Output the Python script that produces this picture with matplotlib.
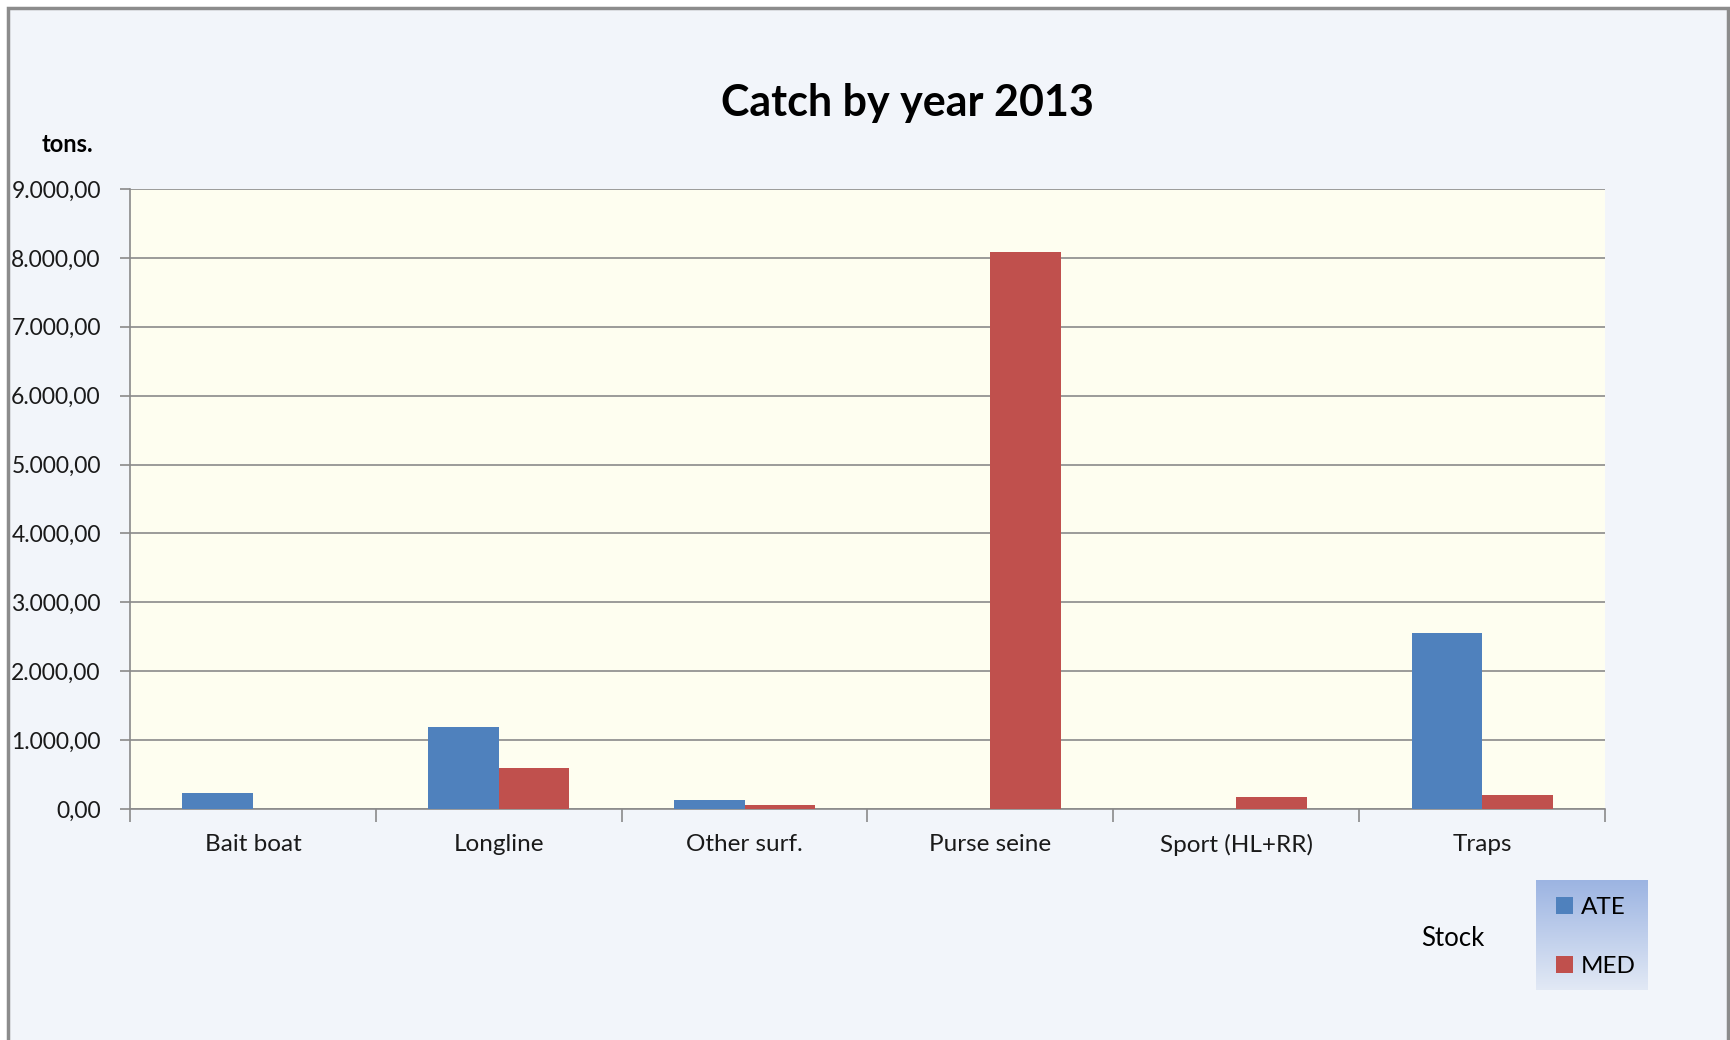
import numpy as np
import matplotlib.pyplot as plt
from matplotlib.patches import Rectangle, Patch
from matplotlib.ticker import FuncFormatter, MultipleLocator

plt.rcParams['font.family'] = ['Lato', 'DejaVu Sans']

# Catch (tons) by gear and stock, 2013
gears = ['Bait boat', 'Longline', 'Other surf.', 'Purse seine', 'Sport (HL+RR)', 'Traps']
ate = [230, 1190, 130, 0, 0, 2550]
med = [0, 600, 60, 8080, 170, 205]
stocks = ['ATE', 'MED']
colors = ['#4F81BD', '#C0504D']

W, H = 1730, 1040
fig = plt.figure(figsize=(W / 100, H / 100), dpi=100, facecolor='white')

# chart area background with grey frame
fig.patches.append(Rectangle((8 / W, -0.05), (1728 - 8) / W, 1.05 - 8 / H,
                             transform=fig.transFigure, facecolor='#F2F5FA',
                             edgecolor='#8C8C8C', linewidth=2.5, zorder=-10))

ax = fig.add_axes([130 / W, 1 - 809 / H, (1605 - 130) / W, (809 - 189) / H])
ax.set_facecolor('#FEFEF0')

x = np.arange(len(gears))
bw = 0.287
ax.bar(x - bw / 2, ate, width=bw, color=colors[0], zorder=3)
ax.bar(x + bw / 2, med, width=bw, color=colors[1], zorder=3)

ax.set_xlim(-0.5, len(gears) - 0.5)
ax.set_ylim(0, 9000)
ax.yaxis.set_major_locator(MultipleLocator(1000))


def euro(v, pos):
    s = f'{v:,.2f}'
    return s.replace(',', 'X').replace('.', ',').replace('X', '.')


ax.yaxis.set_major_formatter(FuncFormatter(euro))
ax.grid(axis='y', color='#8A8A8A', linewidth=1.2, zorder=1)
ax.set_axisbelow(True)

for side in ['top', 'right']:
    ax.spines[side].set_visible(False)
for side in ['left', 'bottom']:
    ax.spines[side].set_color('#8A8A8A')
    ax.spines[side].set_linewidth(1.2)

ax.set_xticks(x)
ax.set_xticklabels(gears, fontsize=17.5, color='#1A1A1A')
ax.tick_params(axis='x', length=0, pad=18)
ax.set_xticks(np.arange(len(gears) + 1) - 0.5, minor=True)
ax.tick_params(axis='x', which='minor', length=9, color='#8A8A8A', width=1.2)
ax.tick_params(axis='y', length=7, color='#8A8A8A', width=1.2, labelsize=16.5,
               labelcolor='#1A1A1A', pad=14)

fig.text(907 / W, 1 - 103 / H, 'Catch by year 2013', ha='center', va='center',
         fontsize=31, fontweight='bold', color='black')
fig.text(67 / W, 1 - 145 / H, 'tons.', ha='center', va='center',
         fontsize=17, fontweight='bold', color='black')
fig.text(1453 / W, 1 - 939 / H, 'Stock', ha='center', va='center',
         fontsize=18.5, color='black')

# legend box with vertical gradient fill
lax = fig.add_axes([1536 / W, 1 - 990 / H, 112 / W, 110 / H])
grad = np.linspace(0, 1, 256).reshape(-1, 1)
c_top = np.array([0x9C, 0xB4, 0xE2]) / 255
c_bot = np.array([0xE2, 0xE9, 0xF5]) / 255
img = c_top[None, None, :] * (1 - grad[:, :, None]) + c_bot[None, None, :] * grad[:, :, None]
lax.imshow(img, extent=[0, 1, 0, 1], aspect='auto', origin='upper')
lax.set_axis_off()
handles = [Patch(facecolor=c, edgecolor='none') for c in colors]
lax.legend(handles, stocks, loc='center left', bbox_to_anchor=(0.18, 0.48), frameon=False,
           fontsize=17.5, handlelength=0.7, handleheight=0.7, handletextpad=0.3,
           labelspacing=1.55, borderpad=0, borderaxespad=0)

fig.savefig('out.png', dpi=100, facecolor=fig.get_facecolor())
